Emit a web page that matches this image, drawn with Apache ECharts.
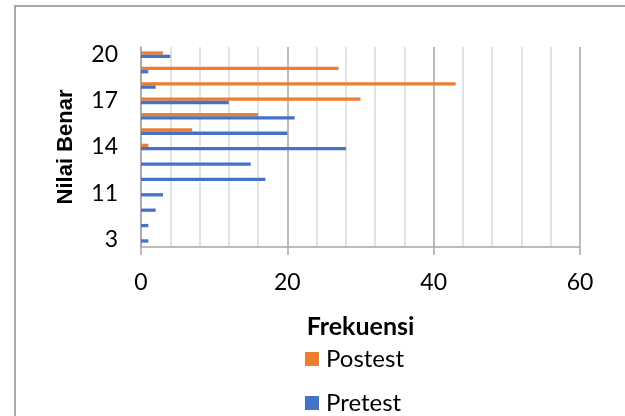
<!DOCTYPE html>
<html><head><meta charset="utf-8">
<script src="https://cdn.jsdelivr.net/npm/echarts@6/dist/echarts.min.js"></script>
<style>html,body{margin:0;padding:0;background:#fff}#c{width:625px;height:416px}</style>
</head><body><div id="c"></div>
<script>
var categories = ['3','8','10','11','12','13','14','15','16','17','18','19','20'];
var pretest  = [1,1,2,3,17,15,28,20,21,12,2,1,4];
var postest  = [0,0,0,0,0,0,1,7,16,30,43,27,3];
var xTicks = [0,20,40,60];

var chart = echarts.init(document.getElementById('c'));
chart.setOption({
  animation:false,
  backgroundColor:'#fff',
  graphic:[{type:'rect',shape:{x:15,y:6,width:700,height:500},style:{fill:'none',stroke:'#8c8c8c',lineWidth:1.5},z:-1}],
  grid:{left:141,right:45,top:47,bottom:169},
  legend:{
    orient:'vertical',left:305,top:347,padding:0,
    data:['Postest','Pretest'],
    itemWidth:14,itemHeight:14,itemGap:20,icon:'rect',
    textStyle:{fontFamily:'Lato',fontSize:24,color:'#000',lineHeight:22,padding:[0,0,0,2]}
  },
  xAxis:{
    type:'value',min:xTicks[0],max:xTicks[xTicks.length-1],interval:20,
    name:'Frekuensi',nameLocation:'middle',nameGap:67,
    nameTextStyle:{fontFamily:'Lato',fontWeight:'bold',fontSize:25,color:'#000'},
    axisLine:{show:true,lineStyle:{color:'#a6a6a6',width:1.5}},
    axisTick:{show:true,length:8,lineStyle:{color:'#a6a6a6',width:1.5}},
    axisLabel:{fontFamily:'Lato',fontSize:23,color:'#000',margin:24},
    splitLine:{show:true,lineStyle:{color:'#a6a6a6',width:1.5}},
    minorTick:{show:false,splitNumber:5},
    minorSplitLine:{show:true,lineStyle:{color:'#d9d9d9',width:1.5}}
  },
  yAxis:{
    type:'category',data:categories,
    name:'Nilai Benar',nameLocation:'middle',nameGap:64,nameRotate:90,
    nameTextStyle:{fontFamily:'Liberation Sans',fontWeight:'bold',fontSize:22,color:'#000'},
    axisLine:{show:true,lineStyle:{color:'#a6a6a6',width:1.5}},
    axisTick:{show:false},
    axisLabel:{interval:2,fontFamily:'Lato',fontSize:23,color:'#000',margin:23}
  },
  series:[
    {name:'Postest',type:'bar',data:postest,barWidth:3.3,barGap:'0%',itemStyle:{color:'#ED7D31'}},
    {name:'Pretest',type:'bar',data:pretest,barWidth:3.3,barGap:'0%',itemStyle:{color:'#4472C4'}}
  ]
});
</script></body></html>
